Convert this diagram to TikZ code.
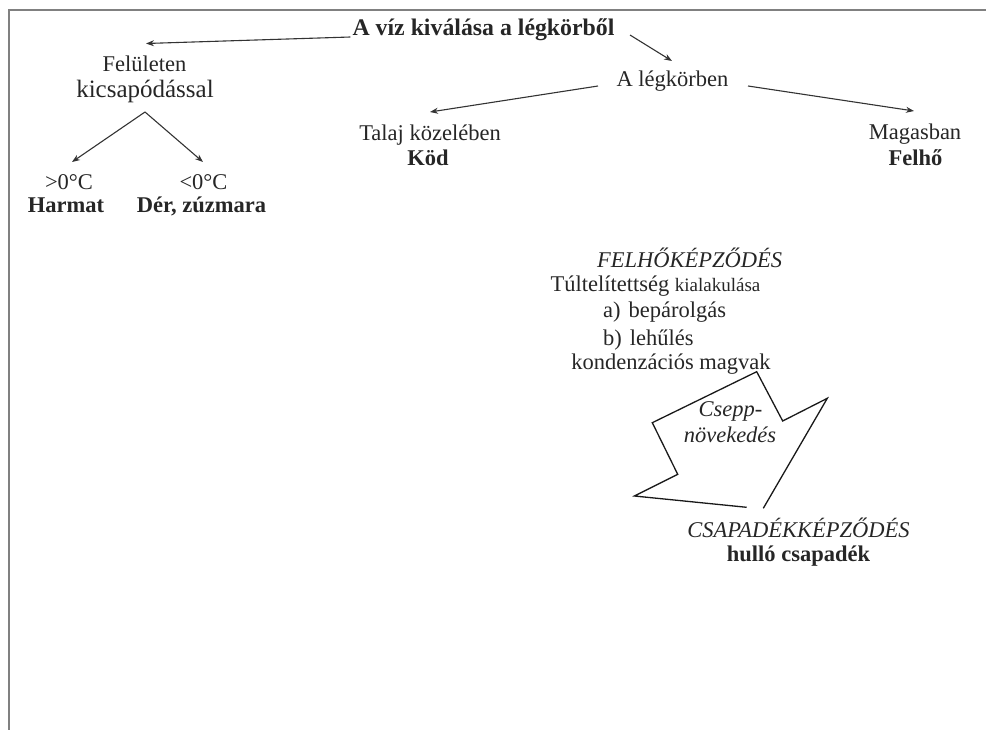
\documentclass[tikz,border=0pt]{standalone}
\usepackage{fontspec}
\setmainfont{Liberation Serif}
\usetikzlibrary{arrows.meta}
\begin{document}
\begin{tikzpicture}[x=1pt,y=-1pt,
  txt/.style={inner sep=0pt, anchor=base, text=black!85, font=\fontsize{22.5}{27}\selectfont},
  btxt/.style={txt, font=\fontsize{22.5}{27}\selectfont\bfseries},
  itxt/.style={txt, font=\fontsize{22.5}{27}\selectfont\itshape},
  conn/.style={draw=black!80, line width=1.1pt, -{Stealth[length=8pt,width=6pt]}},
  frameline/.style={draw=black!50, line width=1.6pt},
  blockarrow/.style={draw=black!90, line width=1.3pt, line join=miter}
]
\useasboundingbox (0,0) rectangle (986,730);
% frame
\draw[frameline] (9,730) -- (9,10) -- (986,10);

% texts
\node[btxt, font=\fontsize{23.8}{28}\selectfont\bfseries] (title) at (483.5,36) {A víz kiválása a légkörből};
\node[txt] (legkor) at (672.5,87) {A légkörben};
\node[txt] (felul) at (144.5,72) {Felületen};
\node[txt, font=\fontsize{25}{30}\selectfont] (kics) at (145,97.5) {kicsapódással};
\node[txt] (talaj) at (430,141) {Talaj közelében};
\node[btxt] (kod) at (428,166) {Köd};
\node[txt] (magas) at (915,140) {Magasban};
\node[btxt] (felho) at (915.5,166) {Felhő};
\node[txt] (plus) at (69,190) {>0°C};
\node[txt] (minus) at (203.5,190) {<0°C};
\node[btxt] (harmat) at (66,213) {Harmat};
\node[btxt] (der) at (201.5,213) {Dér, zúzmara};

\node[itxt] (felhok) at (689.5,268) {FELHŐKÉPZŐDÉS};
\node[txt] (tult) at (655.5,292) {Túltelítettség {\fontsize{19}{23}\selectfont kialakulása}};
\node[txt, anchor=base west] (itema) at (603,318) {a)\hspace{8pt}bepárolgás};
\node[txt, anchor=base west] (itemb) at (603,345) {b)\hspace{8pt}lehűlés};
\node[txt] (kond) at (671,370) {kondenzációs magvak};

\node[itxt] (csepp) at (730.5,416) {Csepp-};
\node[itxt] (novek) at (730,442) {növekedés};

\node[itxt] (csap) at (798.5,537) {CSAPADÉKKÉPZŐDÉS};
\node[btxt] (hullo) at (798.5,561) {hulló csapadék};

% connector end points
\coordinate (tL) at ([xshift=-2pt,yshift=-1pt]title.base west);
\coordinate (fT) at (146,43.5);
\coordinate (tR) at (630,35);
\coordinate (lT) at (672,61);
\coordinate (lL) at (598,86);
\coordinate (taT) at (430,112);
\coordinate (lR) at (748,86);
\coordinate (mT) at (914,111);
\coordinate (kB) at (145,112);
\coordinate (pT) at (72,162);
\coordinate (mnT) at (203,162);

\draw[conn] (tL) -- (fT);
\draw[conn] (tR) -- (lT);
\draw[conn] (lL) -- (taT);
\draw[conn] (lR) -- (mT);
\draw[conn] (kB) -- (pT);
\draw[conn] (kB) -- (mnT);

% block arrow (open at the bottom)
\draw[blockarrow] (763.3,508.3) -- (827.3,398.3) -- (782.7,421) -- (756.7,371.7)
  -- (652.3,422.7) -- (677.7,474.3) -- (634.3,496) -- (746.7,507.3);
\end{tikzpicture}
\end{document}
